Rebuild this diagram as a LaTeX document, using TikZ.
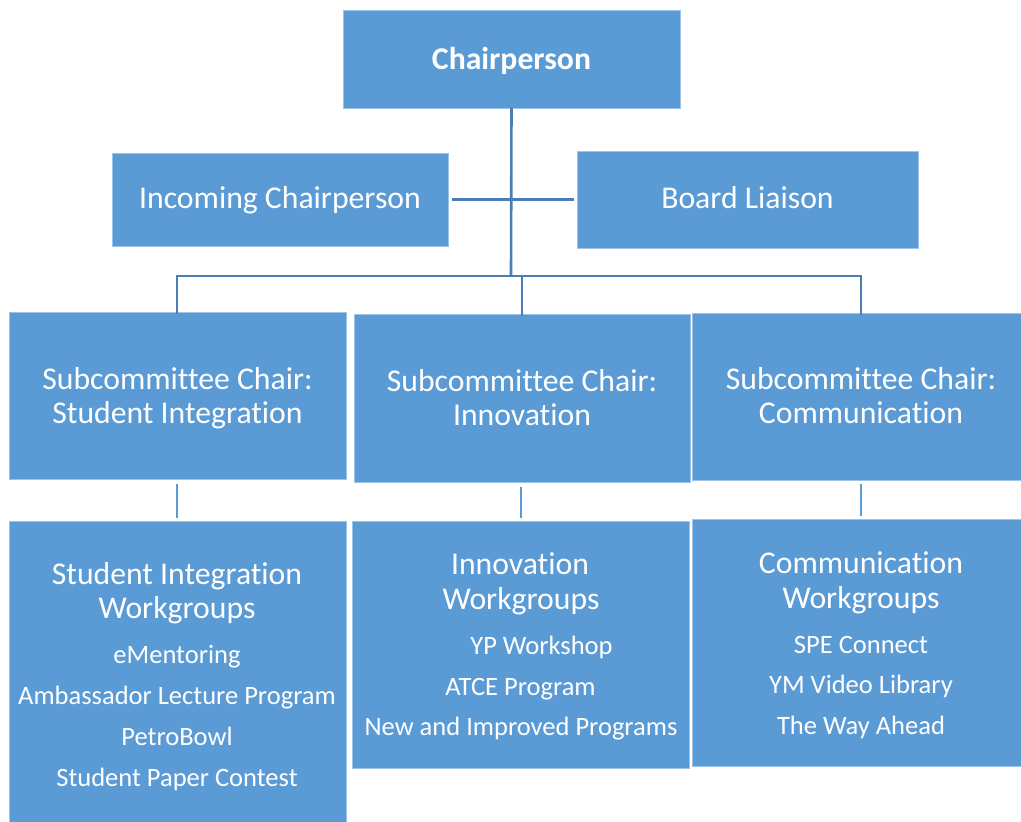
\documentclass[tikz,border=0pt]{standalone}
\usepackage{fontspec}
\setmainfont{Carlito}[Ligatures={NoCommon,NoRequired,NoContextual}]
\definecolor{boxblue}{HTML}{5B9BD5}
\definecolor{lineblue}{RGB}{74,126,180}
\tikzset{
  box/.style={draw=boxblue!60!white, line width=0.6pt, fill=boxblue, rectangle, inner sep=0pt, outer sep=0pt},
  ttl/.style={text=white, inner sep=0pt, anchor=base, font=\fontsize{31.7}{38}\selectfont},
  itm/.style={text=white, inner sep=0pt, anchor=base, font=\fontsize{26.5}{32}\selectfont},
  conn/.style={draw=lineblue, line width=2.6pt},
  lconn/.style={draw=boxblue, line width=2pt}
}
\begin{document}
\begin{tikzpicture}[x=1pt,y=-1pt]
\useasboundingbox (0,0) rectangle (1021,822);
% boxes
\node[box, minimum width=337pt, minimum height=98pt] (chair) at (511.5,59) {};
\node[box, minimum width=336pt, minimum height=93pt] (inc) at (280,199.5) {};
\node[box, minimum width=341pt, minimum height=97pt] (board) at (747.5,199.5) {};
\node[box, minimum width=337pt, minimum height=167pt] (subA) at (177.5,395.5) {};
\node[box, minimum width=336pt, minimum height=168pt] (subB) at (522,398) {};
\node[box, minimum width=330pt, minimum height=167pt] (subC) at (857,396.5) {};
\node[box, minimum width=337pt, minimum height=305pt] (wgA) at (177.5,673.5) {};
\node[box, minimum width=337pt, minimum height=247pt] (wgB) at (520.5,644.5) {};
\node[box, minimum width=330pt, minimum height=247pt] (wgC) at (857,642.5) {};
% texts
\node[ttl] (chairT) at (511.5,69) {\bfseries Chairperson};
\node[ttl] (incT) at (280,208.5) {Incoming Chairperson};
\node[ttl] (boardT) at (747.5,208.5) {Board Liaison};
\node[ttl] (subA1) at (177.5,389) {Subcommittee Chair:};
\node[ttl] (subA2) at (177.5,423.5) {Student Integration};
\node[ttl] (subB1) at (522,391) {Subcommittee Chair:};
\node[ttl] (subB2) at (522,425.5) {Innovation};
\node[ttl] (subC1) at (861,389) {Subcommittee Chair:};
\node[ttl] (subC2) at (861,423.5) {Communication};
\node[ttl] (wgA1) at (177,584) {Student Integration};
\node[ttl] (wgA2) at (177,618.5) {Workgroups};
\node[itm] (wgA3) at (177,663) {eMentoring};
\node[itm] (wgA4) at (177,704) {Ambassador Lecture Program};
\node[itm] (wgA5) at (177,745) {PetroBowl};
\node[itm] (wgA6) at (177,786) {Student Paper Contest};
\node[ttl] (wgB1) at (520,574) {Innovation};
\node[ttl] (wgB2) at (521,609) {Workgroups};
\node[itm] (wgB3) at (541.5,654.5) {YP Workshop};
\node[itm] (wgB4) at (520.5,695) {ATCE Program};
\node[itm] (wgB5) at (521,735.5) {New and Improved Programs};
\node[ttl] (wgC1) at (861,573) {Communication};
\node[ttl] (wgC2) at (861,608) {Workgroups};
\node[itm] (wgC3) at (861,653) {SPE Connect};
\node[itm] (wgC4) at (861,693.5) {YM Video Library};
\node[itm] (wgC5) at (861,734) {The Way Ahead};
% connectors
\coordinate (busL) at (177,276);
\coordinate (busR) at (861,276);
\coordinate (busM) at (511,276);
\coordinate (busB) at (522,276);
\draw[conn] (chair.south) -- (busM);
\draw[conn] ([xshift=4pt]inc.east) -- ([xshift=-3pt]board.west);
\draw[conn, line cap=rect] (busL) -- (busR);
\draw[conn] (busL) -- ([yshift=-2pt]subA.north -| busL);
\draw[conn] (busB) -- ([yshift=-2pt]subB.north -| busB);
\draw[conn] (busR) -- ([yshift=-2pt]subC.north -| busR);
\draw[lconn] ([yshift=-5pt]subA.south -| wgA1) -- ([yshift=3pt]wgA.north -| wgA1);
\draw[lconn] ([yshift=-5pt]subB.south -| wgB2) -- ([yshift=3pt]wgB.north -| wgB2);
\draw[lconn] ([yshift=-4pt]subC.south -| wgC1) -- ([yshift=3pt]wgC.north -| wgC1);
\end{tikzpicture}
\end{document}
